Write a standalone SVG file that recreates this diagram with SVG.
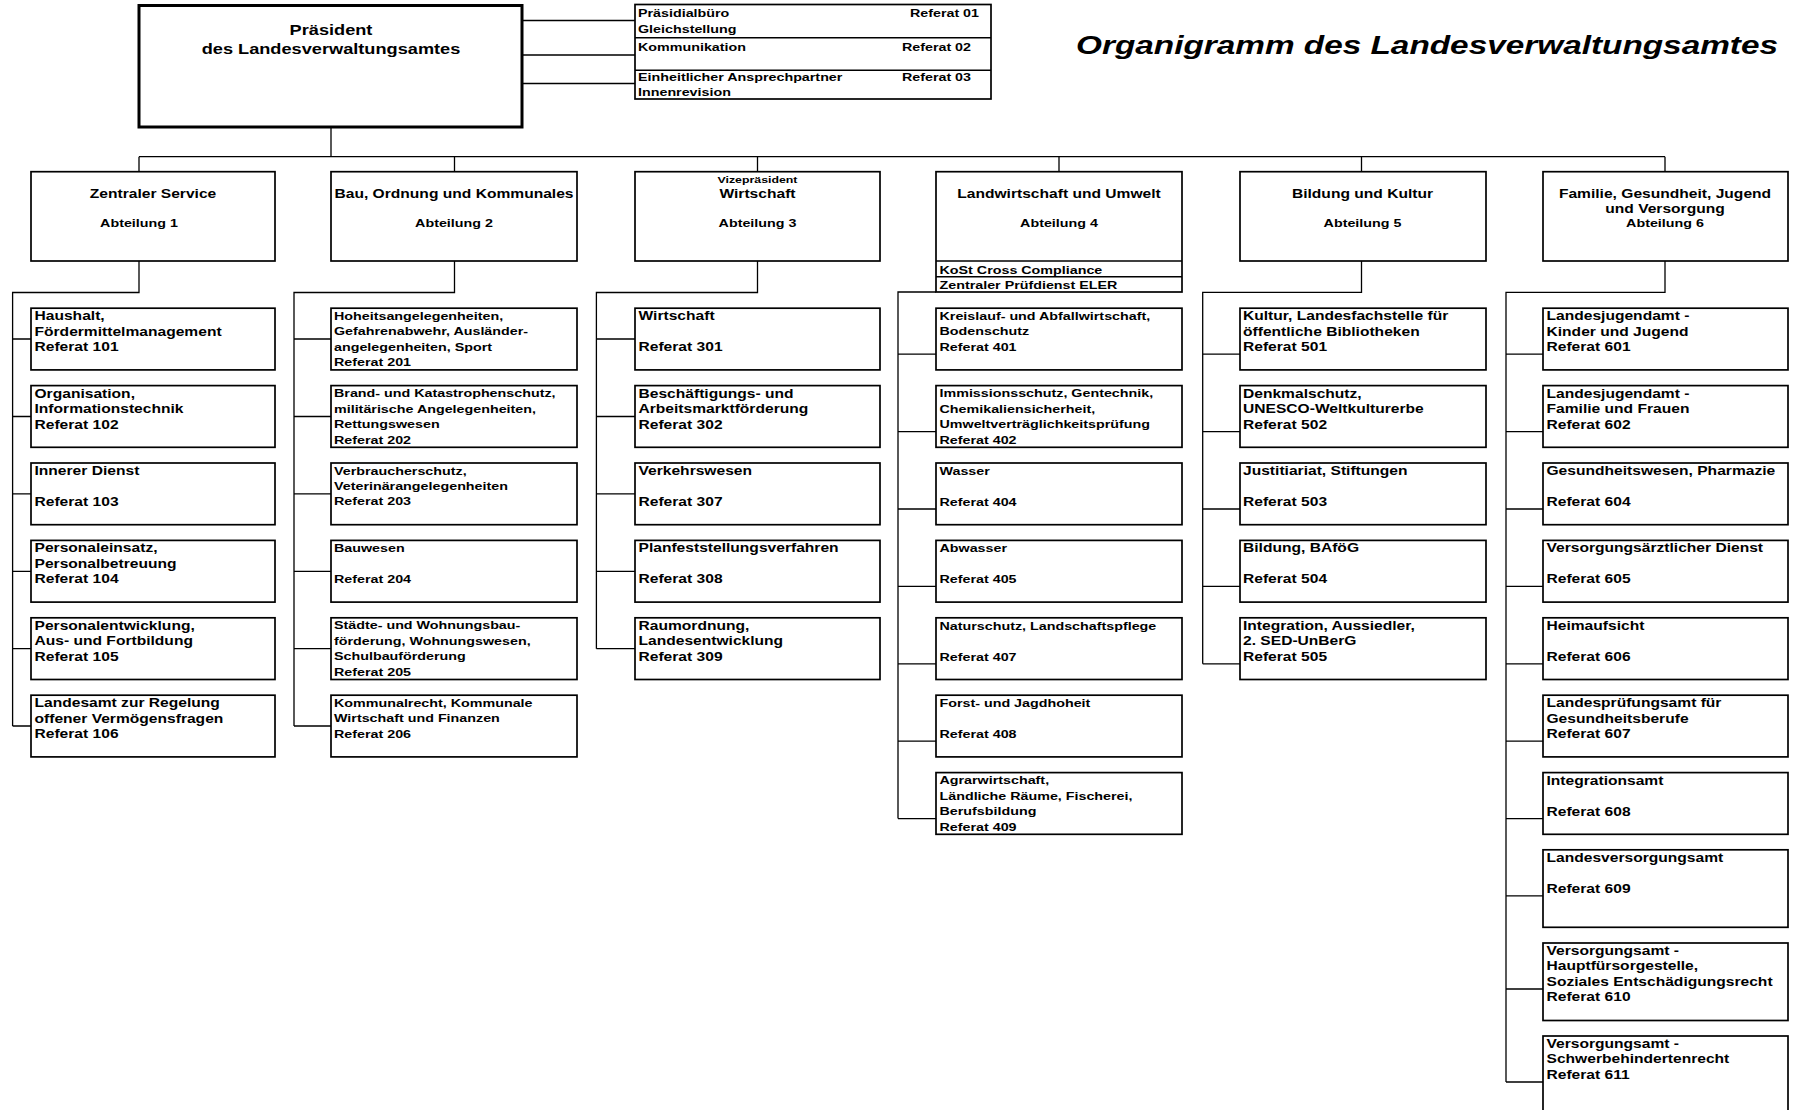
<svg xmlns="http://www.w3.org/2000/svg" width="1795" height="1110" viewBox="0 0 1795 1110">
<style>
text{font-family:"Liberation Sans",Arial,Helvetica,sans-serif;font-weight:bold;fill:#000}
.box{fill:#fff;stroke:#000;stroke-width:1.7}
.pbox{fill:#fff;stroke:#000;stroke-width:3}
.con{stroke:#000;stroke-width:1.3;fill:none}
.f14{font-size:14px}
.f12{font-size:12px}
.f11{font-size:11px}
.f9{font-size:9.5px}
.c{text-anchor:middle}
</style>
<rect x="0" y="0" width="1795" height="1110" fill="#fff"/>

<g id="title">
<text x="1076" y="54" font-size="26" font-style="italic" textLength="702" lengthAdjust="spacingAndGlyphs">Organigramm des Landesverwaltungsamtes</text>
</g>

<g id="connectors" class="con">
<path d="M522 20.5H635M522 55H635M522 83.5H635"/>
<path d="M331 127V156.7M139 156.7H1665M139 156.7V171.7M454.5 156.7V171.7M757.5 156.7V171.7M1059 156.7V171.7M1361.5 156.7V171.7M1665 156.7V171.7"/>
<path d="M139 261V292.5H12.6V726M12.6 339H31M12.6 416.5H31M12.6 493.9H31M12.6 571.3H31M12.6 648.7H31M12.6 726H31"/>
<path d="M454.5 261V292.5H294V726M294 339H331M294 416.5H331M294 493.9H331M294 571.3H331M294 648.7H331M294 726H331"/>
<path d="M757.5 261V292.5H596.4V648.7M596.4 339H635M596.4 416.5H635M596.4 493.9H635M596.4 571.3H635M596.4 648.7H635"/>
<path d="M936 292H898V818.6M898 354.2H936M898 431.6H936M898 509H936M898 586.4H936M898 663.8H936M898 741.2H936M898 818.6H936"/>
<path d="M1361.5 261V292.3H1202.7V663.8M1202.7 354.2H1240M1202.7 431.6H1240M1202.7 509H1240M1202.7 586.4H1240M1202.7 663.8H1240"/>
<path d="M1665 261V292.3H1506V1082M1506 354.2H1543M1506 431.6H1543M1506 509H1543M1506 586.4H1543M1506 663.8H1543M1506 741.2H1543M1506 818.6H1543M1506 895.8H1543M1506 989H1543M1506 1082H1543"/>
</g>

<g id="praesident">
<rect class="pbox" x="139" y="5.5" width="383" height="121.5"/>
<text class="f14 c" transform="translate(331,34.5) scale(1.3,1)">Präsident</text>
<text class="f14 c" transform="translate(331,53.5) scale(1.3,1)">des Landesverwaltungsamtes</text>
</g>

<g id="stabsstellen">
<rect class="box" x="635" y="4.5" width="356" height="94.5"/>
<path d="M635 37.7H991M635 70.3H991" stroke="#000" stroke-width="1.5"/>
<text class="f11" transform="translate(638,16.5) scale(1.3,1)"><tspan x="0">Präsidialbüro</tspan><tspan x="0" y="17">Gleichstellung</tspan></text>
<text class="f11" transform="translate(638,51) scale(1.3,1)">Kommunikation</text>
<text class="f11" transform="translate(638,81) scale(1.3,1)"><tspan x="0">Einheitlicher Ansprechpartner</tspan><tspan x="0" y="15">Innenrevision</tspan></text>
<text class="f11" x="910" y="16.5" textLength="69" lengthAdjust="spacingAndGlyphs">Referat 01</text>
<text class="f11" x="902" y="51" textLength="69" lengthAdjust="spacingAndGlyphs">Referat 02</text>
<text class="f11" x="902" y="81" textLength="69" lengthAdjust="spacingAndGlyphs">Referat 03</text>
</g>

<g id="abt1">
<rect class="box" x="31" y="171.7" width="244" height="89.3"/>
<text class="f12 c" transform="translate(153,197.7) scale(1.3,1)">Zentraler Service</text>
<text class="f11 c" transform="translate(139,226.7) scale(1.3,1)">Abteilung 1</text>
</g>
<g id="abt2">
<rect class="box" x="331" y="171.7" width="246" height="89.3"/>
<text class="f12 c" transform="translate(454,197.7) scale(1.3,1)">Bau, Ordnung und Kommunales</text>
<text class="f11 c" transform="translate(454,226.7) scale(1.3,1)">Abteilung 2</text>
</g>
<g id="abt3">
<rect class="box" x="635" y="171.7" width="245" height="89.3"/>
<text class="f9 c" transform="translate(757.5,182.5) scale(1.3,1)">Vizepräsident</text>
<text class="f12 c" transform="translate(757.5,197.7) scale(1.3,1)">Wirtschaft</text>
<text class="f11 c" transform="translate(757.5,226.7) scale(1.3,1)">Abteilung 3</text>
</g>
<g id="abt4">
<rect class="box" x="936" y="171.7" width="246" height="120.3"/>
<path d="M936 261H1182M936 276.7H1182" stroke="#000" stroke-width="1.5"/>
<text class="f12 c" transform="translate(1059,197.7) scale(1.3,1)">Landwirtschaft und Umwelt</text>
<text class="f11 c" transform="translate(1059,226.7) scale(1.3,1)">Abteilung 4</text>
<text class="f11" transform="translate(939.5,274) scale(1.3,1)">KoSt Cross Compliance</text>
<text class="f11" transform="translate(939.5,289.3) scale(1.3,1)">Zentraler Prüfdienst ELER</text>
</g>
<g id="abt5">
<rect class="box" x="1240" y="171.7" width="246" height="89.3"/>
<text class="f12 c" transform="translate(1362.5,197.7) scale(1.3,1)">Bildung und Kultur</text>
<text class="f11 c" transform="translate(1362.5,226.7) scale(1.3,1)">Abteilung 5</text>
</g>
<g id="abt6">
<rect class="box" x="1543" y="171.7" width="245" height="89.3"/>
<text class="f12 c" transform="translate(1665,197.7) scale(1.3,1)"><tspan x="0">Familie, Gesundheit, Jugend</tspan><tspan x="0" y="15.6">und Versorgung</tspan></text>
<text class="f11 c" transform="translate(1665,226.7) scale(1.3,1)">Abteilung 6</text>
</g>

<!-- Abteilung 1 -->
<g id="r101"><rect class="box" x="31" y="308.2" width="244" height="61.7"/><text class="f12" transform="translate(34.5,320.2) scale(1.3,1)"><tspan x="0">Haushalt,</tspan><tspan x="0" y="15.5">Fördermittelmanagement</tspan><tspan x="0" y="31">Referat 101</tspan></text></g>
<g id="r102"><rect class="box" x="31" y="385.6" width="244" height="61.7"/><text class="f12" transform="translate(34.5,397.6) scale(1.3,1)"><tspan x="0">Organisation,</tspan><tspan x="0" y="15.5">Informationstechnik</tspan><tspan x="0" y="31">Referat 102</tspan></text></g>
<g id="r103"><rect class="box" x="31" y="463" width="244" height="61.7"/><text class="f12" transform="translate(34.5,475) scale(1.3,1)"><tspan x="0">Innerer Dienst</tspan><tspan x="0" y="31">Referat 103</tspan></text></g>
<g id="r104"><rect class="box" x="31" y="540.4" width="244" height="61.7"/><text class="f12" transform="translate(34.5,552.4) scale(1.3,1)"><tspan x="0">Personaleinsatz,</tspan><tspan x="0" y="15.5">Personalbetreuung</tspan><tspan x="0" y="31">Referat 104</tspan></text></g>
<g id="r105"><rect class="box" x="31" y="617.8" width="244" height="61.7"/><text class="f12" transform="translate(34.5,629.8) scale(1.3,1)"><tspan x="0">Personalentwicklung,</tspan><tspan x="0" y="15.5">Aus- und Fortbildung</tspan><tspan x="0" y="31">Referat 105</tspan></text></g>
<g id="r106"><rect class="box" x="31" y="695.2" width="244" height="61.7"/><text class="f12" transform="translate(34.5,707.2) scale(1.3,1)"><tspan x="0">Landesamt zur Regelung</tspan><tspan x="0" y="15.5">offener Vermögensfragen</tspan><tspan x="0" y="31">Referat 106</tspan></text></g>

<!-- Abteilung 2 -->
<g id="r201"><rect class="box" x="331" y="308.2" width="246" height="61.7"/><text class="f11" transform="translate(334,319.5) scale(1.3,1)"><tspan x="0">Hoheitsangelegenheiten,</tspan><tspan x="0" y="15.7">Gefahrenabwehr, Ausländer-</tspan><tspan x="0" y="31.3">angelegenheiten, Sport</tspan><tspan x="0" y="47">Referat 201</tspan></text></g>
<g id="r202"><rect class="box" x="331" y="385.6" width="246" height="61.7"/><text class="f11" transform="translate(334,396.9) scale(1.3,1)"><tspan x="0">Brand- und Katastrophenschutz,</tspan><tspan x="0" y="15.7">militärische Angelegenheiten,</tspan><tspan x="0" y="31.3">Rettungswesen</tspan><tspan x="0" y="47">Referat 202</tspan></text></g>
<g id="r203"><rect class="box" x="331" y="463" width="246" height="61.7"/><text class="f11" transform="translate(334,474.5) scale(1.3,1)"><tspan x="0">Verbraucherschutz,</tspan><tspan x="0" y="15.5">Veterinärangelegenheiten</tspan><tspan x="0" y="31">Referat 203</tspan></text></g>
<g id="r204"><rect class="box" x="331" y="540.4" width="246" height="61.7"/><text class="f11" transform="translate(334,552.2) scale(1.3,1)"><tspan x="0">Bauwesen</tspan><tspan x="0" y="31">Referat 204</tspan></text></g>
<g id="r205"><rect class="box" x="331" y="617.8" width="246" height="61.7"/><text class="f11" transform="translate(334,629.1) scale(1.3,1)"><tspan x="0">Städte- und Wohnungsbau-</tspan><tspan x="0" y="15.7">förderung, Wohnungswesen,</tspan><tspan x="0" y="31.3">Schulbauförderung</tspan><tspan x="0" y="47">Referat 205</tspan></text></g>
<g id="r206"><rect class="box" x="331" y="695.2" width="246" height="61.7"/><text class="f11" transform="translate(334,707) scale(1.3,1)"><tspan x="0">Kommunalrecht, Kommunale</tspan><tspan x="0" y="15.5">Wirtschaft und Finanzen</tspan><tspan x="0" y="31">Referat 206</tspan></text></g>

<!-- Abteilung 3 -->
<g id="r301"><rect class="box" x="635" y="308.2" width="245" height="61.7"/><text class="f12" transform="translate(638.5,320.2) scale(1.3,1)"><tspan x="0">Wirtschaft</tspan><tspan x="0" y="31">Referat 301</tspan></text></g>
<g id="r302"><rect class="box" x="635" y="385.6" width="245" height="61.7"/><text class="f12" transform="translate(638.5,397.6) scale(1.3,1)"><tspan x="0">Beschäftigungs- und</tspan><tspan x="0" y="15.5">Arbeitsmarktförderung</tspan><tspan x="0" y="31">Referat 302</tspan></text></g>
<g id="r307"><rect class="box" x="635" y="463" width="245" height="61.7"/><text class="f12" transform="translate(638.5,475) scale(1.3,1)"><tspan x="0">Verkehrswesen</tspan><tspan x="0" y="31">Referat 307</tspan></text></g>
<g id="r308"><rect class="box" x="635" y="540.4" width="245" height="61.7"/><text class="f12" transform="translate(638.5,552.4) scale(1.3,1)"><tspan x="0">Planfeststellungsverfahren</tspan><tspan x="0" y="31">Referat 308</tspan></text></g>
<g id="r309"><rect class="box" x="635" y="617.8" width="245" height="61.7"/><text class="f12" transform="translate(638.5,629.8) scale(1.3,1)"><tspan x="0">Raumordnung,</tspan><tspan x="0" y="15.5">Landesentwicklung</tspan><tspan x="0" y="31">Referat 309</tspan></text></g>

<!-- Abteilung 4 -->
<g id="r401"><rect class="box" x="936" y="308.2" width="246" height="61.7"/><text class="f11" transform="translate(939.5,319.8) scale(1.3,1)"><tspan x="0">Kreislauf- und Abfallwirtschaft,</tspan><tspan x="0" y="15.5">Bodenschutz</tspan><tspan x="0" y="31">Referat 401</tspan></text></g>
<g id="r402"><rect class="box" x="936" y="385.6" width="246" height="61.7"/><text class="f11" transform="translate(939.5,396.9) scale(1.3,1)"><tspan x="0">Immissionsschutz, Gentechnik,</tspan><tspan x="0" y="15.7">Chemikaliensicherheit,</tspan><tspan x="0" y="31.3">Umweltverträglichkeitsprüfung</tspan><tspan x="0" y="47">Referat 402</tspan></text></g>
<g id="r404"><rect class="box" x="936" y="463" width="246" height="61.7"/><text class="f11" transform="translate(939.5,474.8) scale(1.3,1)"><tspan x="0">Wasser</tspan><tspan x="0" y="31">Referat 404</tspan></text></g>
<g id="r405"><rect class="box" x="936" y="540.4" width="246" height="61.7"/><text class="f11" transform="translate(939.5,552.2) scale(1.3,1)"><tspan x="0">Abwasser</tspan><tspan x="0" y="31">Referat 405</tspan></text></g>
<g id="r407"><rect class="box" x="936" y="617.8" width="246" height="61.7"/><text class="f11" transform="translate(939.5,629.6) scale(1.3,1)"><tspan x="0">Naturschutz, Landschaftspflege</tspan><tspan x="0" y="31">Referat 407</tspan></text></g>
<g id="r408"><rect class="box" x="936" y="695.2" width="246" height="61.7"/><text class="f11" transform="translate(939.5,707) scale(1.3,1)"><tspan x="0">Forst- und Jagdhoheit</tspan><tspan x="0" y="31">Referat 408</tspan></text></g>
<g id="r409"><rect class="box" x="936" y="772.6" width="246" height="61.7"/><text class="f11" transform="translate(939.5,783.9) scale(1.3,1)"><tspan x="0">Agrarwirtschaft,</tspan><tspan x="0" y="15.7">Ländliche Räume, Fischerei,</tspan><tspan x="0" y="31.3">Berufsbildung</tspan><tspan x="0" y="47">Referat 409</tspan></text></g>

<!-- Abteilung 5 -->
<g id="r501"><rect class="box" x="1240" y="308.2" width="246" height="61.7"/><text class="f12" transform="translate(1243,320.2) scale(1.3,1)"><tspan x="0">Kultur, Landesfachstelle für</tspan><tspan x="0" y="15.5">öffentliche Bibliotheken</tspan><tspan x="0" y="31">Referat 501</tspan></text></g>
<g id="r502"><rect class="box" x="1240" y="385.6" width="246" height="61.7"/><text class="f12" transform="translate(1243,397.6) scale(1.3,1)"><tspan x="0">Denkmalschutz,</tspan><tspan x="0" y="15.5">UNESCO-Weltkulturerbe</tspan><tspan x="0" y="31">Referat 502</tspan></text></g>
<g id="r503"><rect class="box" x="1240" y="463" width="246" height="61.7"/><text class="f12" transform="translate(1243,475) scale(1.3,1)"><tspan x="0">Justitiariat, Stiftungen</tspan><tspan x="0" y="31">Referat 503</tspan></text></g>
<g id="r504"><rect class="box" x="1240" y="540.4" width="246" height="61.7"/><text class="f12" transform="translate(1243,552.4) scale(1.3,1)"><tspan x="0">Bildung, BAföG</tspan><tspan x="0" y="31">Referat 504</tspan></text></g>
<g id="r505"><rect class="box" x="1240" y="617.8" width="246" height="61.7"/><text class="f12" transform="translate(1243,629.8) scale(1.3,1)"><tspan x="0">Integration, Aussiedler,</tspan><tspan x="0" y="15.5">2. SED-UnBerG</tspan><tspan x="0" y="31">Referat 505</tspan></text></g>

<!-- Abteilung 6 -->
<g id="r601"><rect class="box" x="1543" y="308.2" width="245" height="61.7"/><text class="f12" transform="translate(1546.5,320.2) scale(1.3,1)"><tspan x="0">Landesjugendamt -</tspan><tspan x="0" y="15.5">Kinder und Jugend</tspan><tspan x="0" y="31">Referat 601</tspan></text></g>
<g id="r602"><rect class="box" x="1543" y="385.6" width="245" height="61.7"/><text class="f12" transform="translate(1546.5,397.6) scale(1.3,1)"><tspan x="0">Landesjugendamt -</tspan><tspan x="0" y="15.5">Familie und Frauen</tspan><tspan x="0" y="31">Referat 602</tspan></text></g>
<g id="r604"><rect class="box" x="1543" y="463" width="245" height="61.7"/><text class="f12" transform="translate(1546.5,475) scale(1.3,1)"><tspan x="0">Gesundheitswesen, Pharmazie</tspan><tspan x="0" y="31">Referat 604</tspan></text></g>
<g id="r605"><rect class="box" x="1543" y="540.4" width="245" height="61.7"/><text class="f12" transform="translate(1546.5,552.4) scale(1.3,1)"><tspan x="0">Versorgungsärztlicher Dienst</tspan><tspan x="0" y="31">Referat 605</tspan></text></g>
<g id="r606"><rect class="box" x="1543" y="617.8" width="245" height="61.7"/><text class="f12" transform="translate(1546.5,629.8) scale(1.3,1)"><tspan x="0">Heimaufsicht</tspan><tspan x="0" y="31">Referat 606</tspan></text></g>
<g id="r607"><rect class="box" x="1543" y="695.2" width="245" height="61.7"/><text class="f12" transform="translate(1546.5,707.2) scale(1.3,1)"><tspan x="0">Landesprüfungsamt für</tspan><tspan x="0" y="15.5">Gesundheitsberufe</tspan><tspan x="0" y="31">Referat 607</tspan></text></g>
<g id="r608"><rect class="box" x="1543" y="772.6" width="245" height="61.7"/><text class="f12" transform="translate(1546.5,784.6) scale(1.3,1)"><tspan x="0">Integrationsamt</tspan><tspan x="0" y="31">Referat 608</tspan></text></g>
<g id="r609"><rect class="box" x="1543" y="849.8" width="245" height="77.5"/><text class="f12" transform="translate(1546.5,861.8) scale(1.3,1)"><tspan x="0">Landesversorgungsamt</tspan><tspan x="0" y="31">Referat 609</tspan></text></g>
<g id="r610"><rect class="box" x="1543" y="943" width="245" height="77.5"/><text class="f12" transform="translate(1546.5,955) scale(1.3,1)"><tspan x="0">Versorgungsamt -</tspan><tspan x="0" y="15.5">Hauptfürsorgestelle,</tspan><tspan x="0" y="31">Soziales Entschädigungsrecht</tspan><tspan x="0" y="46.5">Referat 610</tspan></text></g>
<g id="r611"><rect class="box" x="1543" y="1036" width="245" height="85"/><text class="f12" transform="translate(1546.5,1048) scale(1.3,1)"><tspan x="0">Versorgungsamt -</tspan><tspan x="0" y="15.5">Schwerbehindertenrecht</tspan><tspan x="0" y="31">Referat 611</tspan></text></g>
</svg>
